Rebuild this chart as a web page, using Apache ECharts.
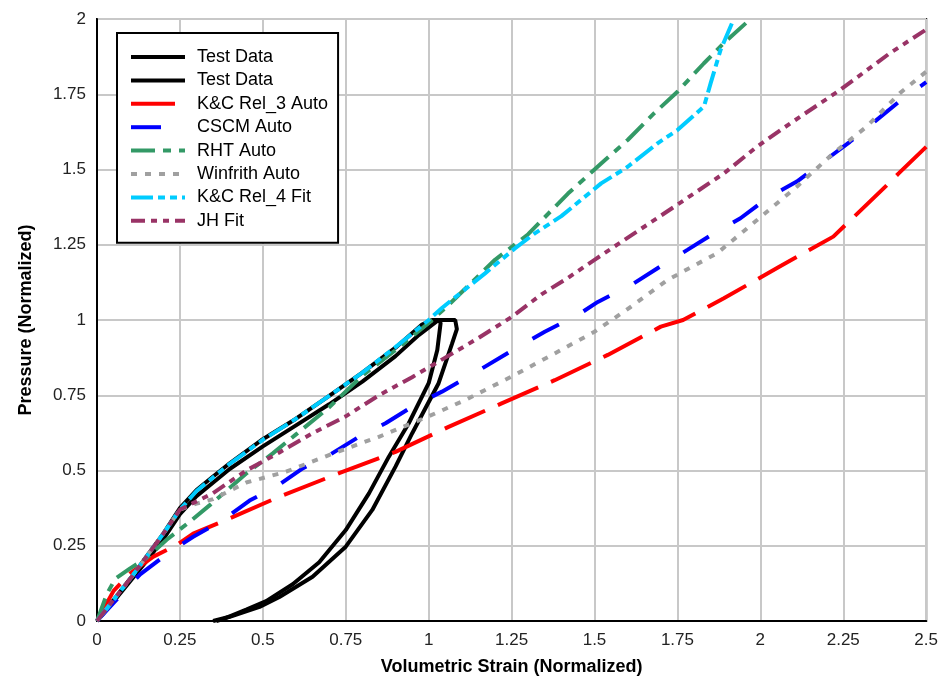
<!DOCTYPE html>
<html>
<head>
<meta charset="utf-8">
<script src="https://cdn.jsdelivr.net/npm/echarts@6/dist/echarts.min.js"></script>
<style>
  html, body { margin: 0; padding: 0; background: #fff; }
  #chart { width: 941px; height: 686px; }
</style>
</head>
<body>
<div id="chart"></div>
<script>
// test data, two loops (loading + unloading)
var testDataA = [[0,0],[0.05,0.07],[0.1,0.14],[0.15,0.215],[0.2,0.29],[0.25,0.375],[0.3,0.435],[0.35,0.48],[0.4,0.524],[0.5,0.604],[0.6,0.672],[0.7,0.748],[0.8,0.825],[0.9,0.908],[0.98,0.985],[1.01,1.0],[1.08,1.0],[1.085,0.97],[1.07,0.92],[1.03,0.79],[0.95,0.623],[0.9,0.513],[0.83,0.369],[0.75,0.247],[0.65,0.147],[0.55,0.08],[0.49,0.047],[0.4,0.014],[0.35,0]];
var testDataB = [[0,0],[0.05,0.065],[0.1,0.132],[0.15,0.2],[0.2,0.272],[0.25,0.355],[0.3,0.415],[0.4,0.505],[0.5,0.58],[0.6,0.65],[0.7,0.72],[0.8,0.795],[0.9,0.88],[0.97,0.95],[1.03,1.0],[1.036,0.99],[1.026,0.9],[1.0,0.79],[0.94,0.657],[0.88,0.546],[0.82,0.424],[0.75,0.302],[0.67,0.195],[0.59,0.122],[0.51,0.066],[0.45,0.038],[0.38,0.006],[0.36,0]];

// model curves
var kcRel3Auto = [[0,0],[0.05,0.1],[0.1,0.158],[0.17,0.214],[0.24,0.252],[0.29,0.29],[0.4,0.341],[0.55,0.413],[0.73,0.491],[0.9,0.562],[1.06,0.645],[1.22,0.723],[1.38,0.8],[1.54,0.884],[1.7,0.978],[1.767,1.0],[1.89,1.072],[2.057,1.177],[2.22,1.277],[2.257,1.316],[2.377,1.443],[2.417,1.487],[2.5,1.575]];
var cscmAuto = [[0,0],[0.05,0.06],[0.13,0.155],[0.21,0.222],[0.29,0.28],[0.38,0.336],[0.46,0.4],[0.54,0.446],[0.62,0.507],[0.7,0.551],[0.79,0.612],[0.87,0.657],[0.95,0.712],[1.04,0.762],[1.12,0.812],[1.27,0.911],[1.35,0.961],[1.45,1.017],[1.51,1.06],[1.61,1.116],[1.69,1.172],[1.78,1.233],[1.86,1.288],[1.94,1.338],[2.02,1.404],[2.11,1.46],[2.19,1.526],[2.27,1.592],[2.35,1.664],[2.43,1.736],[2.5,1.79]];
var rhtAuto = [[0,0],[0.03,0.09],[0.055,0.14],[0.1,0.175],[0.15,0.21],[0.21,0.27],[0.28,0.33],[0.34,0.385],[0.45,0.49],[0.53,0.557],[0.6,0.62],[0.7,0.71],[0.8,0.815],[0.9,0.9],[1.0,0.99],[1.06,1.05],[1.2,1.2],[1.3,1.285],[1.42,1.42],[1.52,1.52],[1.6,1.598],[1.68,1.687],[1.75,1.758],[1.83,1.853],[1.89,1.92],[1.97,2.0]];
var winfrithAuto = [[0,0],[0.1,0.14],[0.2,0.29],[0.25,0.37],[0.3,0.39],[0.35,0.405],[0.45,0.46],[0.57,0.496],[0.72,0.56],[0.85,0.612],[1.0,0.68],[1.11,0.734],[1.25,0.812],[1.38,0.889],[1.5,0.961],[1.61,1.044],[1.72,1.133],[1.87,1.222],[1.99,1.332],[2.11,1.443],[2.22,1.554],[2.32,1.642],[2.42,1.753],[2.5,1.825]];
var kcRel4Fit = [[0,0],[0.1,0.14],[0.2,0.29],[0.25,0.37],[0.3,0.432],[0.4,0.522],[0.5,0.602],[0.6,0.672],[0.7,0.748],[0.8,0.825],[0.9,0.91],[1.0,1.0],[1.04,1.04],[1.17,1.155],[1.26,1.238],[1.32,1.288],[1.4,1.345],[1.52,1.454],[1.6,1.509],[1.69,1.587],[1.75,1.631],[1.83,1.709],[1.85,1.786],[1.88,1.897],[1.92,2.0]];
var jhFit = [[0,0],[0.1,0.14],[0.2,0.29],[0.25,0.37],[0.35,0.425],[0.45,0.5],[0.55,0.56],[0.65,0.624],[0.75,0.68],[0.85,0.75],[0.95,0.81],[1.05,0.875],[1.15,0.94],[1.25,1.01],[1.34,1.085],[1.42,1.14],[1.5,1.2],[1.59,1.266],[1.74,1.376],[1.89,1.487],[1.99,1.576],[2.09,1.653],[2.24,1.764],[2.39,1.886],[2.5,1.965]];

var seriesNames = ['Test Data 1','Test Data 2','K&C Rel_3 Auto','CSCM Auto','RHT Auto','Winfrith Auto','K&C Rel_4 Fit','JH Fit'];
var seriesData = [testDataA, testDataB, kcRel3Auto, cscmAuto, rhtAuto, winfrithAuto, kcRel4Fit, jhFit];
var seriesColors = ['#000000','#000000','#ff0000','#0000ff','#339966','#a0a0a0','#00ccff','#993366'];
var seriesDash = ['solid','solid',[44,14],[30,28],[24,8,8,8],[6,8],[22,5,7,5,7,5],[14,6,6,6,6,6]];

var chart = echarts.init(document.getElementById('chart'));
var series = [];
for (var i = 0; i < seriesNames.length; i++) {
    series.push({
        name: seriesNames[i],
        type: 'line',
        data: seriesData[i],
        symbol: 'none',
        smooth: false,
        animation: false,
        lineStyle: {
            color: seriesColors[i],
            width: 4,
            type: seriesDash[i]
        },
        itemStyle: {color: seriesColors[i]}
    });
}

var option = {
    backgroundColor: '#fff',
    animation: false,
    grid: {
        left: 97, right: 12, top: 19, bottom: 65,
        show: true, borderColor: '#000', borderWidth: 2
    },
    legend: {
        orient: 'vertical',
        left: 117, top: 33,
        padding: [15, 10, 13, 12],
        borderColor: '#000',
        borderWidth: 2,
        backgroundColor: '#fff',
        itemWidth: 54,
        itemHeight: 14,
        itemGap: 5.4,
        itemStyle: {opacity: 0},
        lineStyle: {width: 4},
        data: seriesNames,
        formatter: function (name) {
            return name.indexOf('Test Data') === 0 ? 'Test Data' : name;
        },
        textStyle: {
            fontFamily: 'Liberation Sans, Arial, sans-serif',
            fontSize: 18,
            lineHeight: 18,
            color: '#000',
            padding: [0, 0, 0, 7]
        }
    },
    xAxis: {
        type: 'value',
        min: 0, max: 2.5, interval: 0.25,
        name: 'Volumetric Strain (Normalized)',
        nameLocation: 'middle',
        nameGap: 37,
        nameTextStyle: {fontFamily: 'Liberation Sans, Arial, sans-serif', fontSize: 18, fontWeight: 'bold', color: '#000'},
        axisLine: {lineStyle: {color: '#000', width: 2}},
        axisTick: {show: false},
        axisLabel: {fontFamily: 'Liberation Sans, Arial, sans-serif', fontSize: 17, color: '#222', margin: 11},
        splitLine: {lineStyle: {color: '#c8c8c8', width: 2}}
    },
    yAxis: {
        type: 'value',
        min: 0, max: 2, interval: 0.25,
        name: 'Pressure (Normalized)',
        nameLocation: 'middle',
        nameGap: 62,
        nameTextStyle: {fontFamily: 'Liberation Sans, Arial, sans-serif', fontSize: 18, fontWeight: 'bold', color: '#000'},
        axisLine: {lineStyle: {color: '#000', width: 2}},
        axisTick: {show: false},
        axisLabel: {fontFamily: 'Liberation Sans, Arial, sans-serif', fontSize: 17, color: '#222', margin: 11},
        splitLine: {lineStyle: {color: '#c8c8c8', width: 2}}
    },
    series: series
};
chart.setOption(option);
</script>
</body>
</html>
